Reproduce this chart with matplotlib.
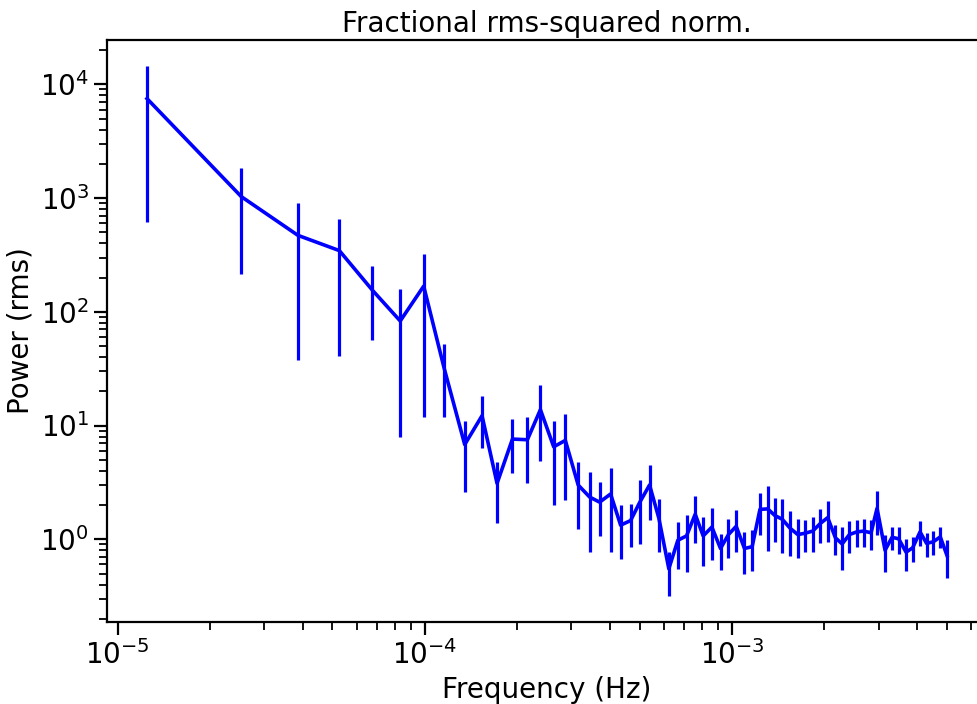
import numpy as np
import matplotlib
matplotlib.use("Agg")
import matplotlib.pyplot as plt

# frequency bins (Hz)
freq = [1.247e-5, 2.527e-5, 3.864e-5, 5.272e-5, 6.75e-5, 8.32e-5, 9.92e-5,
        1.156e-4, 1.349e-4, 1.536e-4, 1.719e-4, 1.929e-4, 2.158e-4, 2.379e-4,
        2.628e-4, 2.868e-4, 3.157e-4, 3.441e-4, 3.708e-4, 4.026e-4, 4.34e-4,
        4.677e-4, 5.003e-4, 5.391e-4, 5.781e-4, 6.229e-4, 6.664e-4, 7.112e-4,
        7.59e-4, 8.058e-4, 8.6e-4, 9.175e-4, 9.74e-4, 1.032e-3, 1.098e-3,
        1.163e-3, 1.233e-3, 1.307e-3, 1.378e-3, 1.457e-3, 1.546e-3, 1.637e-3,
        1.73e-3, 1.831e-3, 1.94e-3, 2.049e-3, 2.171e-3, 2.283e-3, 2.411e-3,
        2.546e-3, 2.683e-3, 2.836e-3, 2.966e-3, 3.149e-3, 3.318e-3, 3.487e-3,
        3.686e-3, 3.872e-3, 4.093e-3, 4.3e-3, 4.521e-3, 4.764e-3, 5.01e-3]

power = [7482, 1030, 470, 345, 155, 83, 168,
         32, 6.8, 12.2, 3.1, 7.6, 7.5, 13.8,
         6.5, 7.4, 3.0, 2.35, 2.12, 2.5, 1.33,
         1.46, 2.1, 3.0, 1.53, 0.55, 0.98, 1.07,
         1.66, 1.07, 1.28, 0.83, 1.1, 1.3, 0.83,
         0.86, 1.83, 1.85, 1.62, 1.5, 1.25, 1.1,
         1.13, 1.18, 1.38, 1.55, 1.03, 0.91, 1.1,
         1.16, 1.18, 1.14, 1.87, 0.8, 1.04, 1.01,
         0.77, 0.84, 1.16, 0.92, 0.95, 1.05, 0.72]

power_err = [6868, 817, 432, 304, 98, 75, 156,
             20, 4.2, 5.9, 1.72, 3.78, 4.4, 8.9,
             4.5, 5.2, 1.77, 1.57, 1.06, 1.72, 0.66,
             0.6, 1.19, 1.53, 0.75, 0.23, 0.43, 0.556,
             0.73, 0.49, 0.62, 0.29, 0.416, 0.52, 0.33,
             0.337, 0.74, 1.06, 0.67, 0.74, 0.54, 0.41,
             0.35, 0.4, 0.46, 0.61, 0.3, 0.37, 0.34,
             0.31, 0.33, 0.335, 0.78, 0.285, 0.24, 0.27,
             0.24, 0.21, 0.29, 0.22, 0.227, 0.22, 0.265]

plt.rcParams['font.size'] = 20

fig = plt.figure(figsize=(9.78, 7.04), dpi=100)
ax = fig.add_axes([107/978, 82/704, 880/978, 582/704])

ax.errorbar(freq, power, yerr=power_err, color="b", lw=2.6, elinewidth=2.3)
ax.set_xscale("log")
ax.set_yscale("log")

ax.set_title("Fractional rms-squared norm.", fontsize=20)
ax.set_xlabel("Frequency (Hz)")
ax.set_ylabel("Power (rms)")

for s in ax.spines.values():
    s.set_linewidth(1.6)
ax.tick_params(which="major", length=9.5, width=1.6)
ax.tick_params(which="minor", length=5.5, width=1.3)

fig.savefig("out.png", dpi=100)
